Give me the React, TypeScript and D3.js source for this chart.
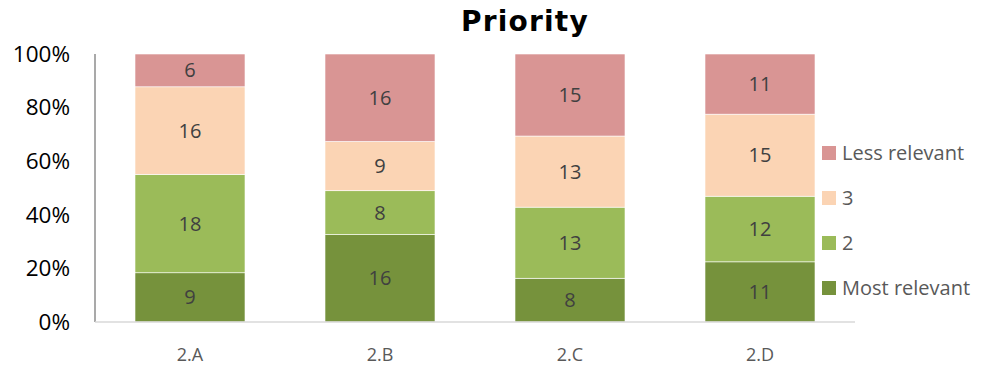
import React from "react";
import * as d3 from "d3";

const categories = ["2.A", "2.B", "2.C", "2.D"];
const seriesNames = ["Most relevant", "2", "3", "Less relevant"];
const mostRelevant = [9, 16, 8, 11];
const second = [18, 8, 13, 12];
const third = [16, 9, 13, 15];
const lessRelevant = [6, 16, 15, 11];
const yTicks = [0, 0.2, 0.4, 0.6, 0.8, 1];
const colors = ["#76923C", "#9BBB59", "#FBD4B4", "#D99594"];

const W = 981;
const H = 367;
const plot = { left: 95, right: 855, top: 54, bottom: 322 };
const font = "'Open Sans', 'Liberation Sans', sans-serif";

export default function App() {
  const seriesValues = [mostRelevant, second, third, lessRelevant];
  const rows = categories.map((c, i) => {
    const row: Record<string, any> = { category: c };
    seriesNames.forEach((s, k) => (row[s] = seriesValues[k][i]));
    return row;
  });
  const stacked = d3
    .stack<any>()
    .keys(seriesNames)
    .offset(d3.stackOffsetExpand)(rows);

  const x = d3
    .scaleBand<string>()
    .domain(categories)
    .range([plot.left, plot.right])
    .paddingInner(80 / 190)
    .paddingOuter(40 / 190);
  const y = d3.scaleLinear().domain([0, 1]).range([plot.bottom, plot.top]);
  const fmt = d3.format(".0%");

  return (
    <svg
      width={W}
      height={H}
      style={{ position: "absolute", left: 0, top: 0, background: "#fff" }}
    >
      <text
        x={525}
        y={31}
        textAnchor="middle"
        fontFamily="'DejaVu Sans', sans-serif"
        fontWeight="bold"
        fontSize={28}
        letterSpacing={1.2}
        fill="#000"
      >
        Priority
      </text>

      {stacked.map((layer, k) => (
        <g key={layer.key}>
          {layer.map((d, i) => {
            const x0 = x(categories[i])!;
            const yTop = y(d[1]);
            const yBot = y(d[0]);
            return (
              <g key={i}>
                <rect
                  x={x0}
                  y={yTop}
                  width={x.bandwidth()}
                  height={yBot - yTop}
                  fill={colors[k]}
                  stroke="#fff"
                  strokeWidth={0.6}
                />
                <text
                  x={x0 + x.bandwidth() / 2}
                  y={(yTop + yBot) / 2}
                  dy="0.35em"
                  textAnchor="middle"
                  fontFamily={font}
                  fontSize={20}
                  fill="#404040"
                >
                  {seriesValues[k][i]}
                </text>
              </g>
            );
          })}
        </g>
      ))}

      {/* axes */}
      <line
        x1={plot.left}
        x2={plot.left}
        y1={plot.top}
        y2={plot.bottom}
        stroke="#8c8c8c"
        strokeWidth={1.5}
      />
      <line
        x1={plot.left}
        x2={plot.right}
        y1={plot.bottom}
        y2={plot.bottom}
        stroke="#d9d9d9"
        strokeWidth={1.5}
      />
      {yTicks.map((t) => (
        <text
          key={t}
          x={70}
          y={y(t)}
          dy="0.35em"
          textAnchor="end"
          fontFamily={font}
          fontSize={22.5}
          fill="#000"
        >
          {fmt(t)}
        </text>
      ))}
      {categories.map((c) => (
        <text
          key={c}
          x={x(c)! + x.bandwidth() / 2}
          y={355}
          dy="0.35em"
          textAnchor="middle"
          fontFamily={font}
          fontSize={18}
          fill="#595959"
        >
          {c}
        </text>
      ))}

      {/* legend, top entry is the top of the stack */}
      {seriesNames
        .map((s, k) => ({ s, k }))
        .reverse()
        .map(({ s, k }, j) => {
          const cy = 153 + j * 45;
          return (
            <g key={s}>
              <rect x={822} y={cy - 7} width={14} height={14} fill={colors[k]} />
              <text
                x={842}
                y={cy}
                dy="0.35em"
                fontFamily={font}
                fontSize={20}
                fill="#595959"
              >
                {s}
              </text>
            </g>
          );
        })}
    </svg>
  );
}
